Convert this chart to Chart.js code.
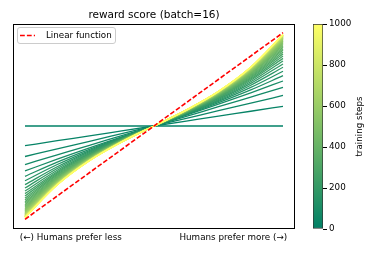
<!DOCTYPE html>
<html>
<head>
<meta charset="utf-8">
<script src="https://cdn.jsdelivr.net/npm/chart.js@4/dist/chart.umd.min.js"></script>
<style>
  html, body { margin: 0; padding: 0; background: #fff; }
  .box { position: absolute; left: 0; top: 0; width: 382px; height: 254px; }
</style>
</head>
<body>
<div class="box"><canvas id="main"></canvas></div>
<div class="box"><canvas id="cbar"></canvas></div>
<script>
// training checkpoints, one curve each
const steps = [
  0, 25, 50, 75, 100, 125, 150, 175, 200, 225, 250, 275, 300, 325, 350, 375, 400, 425, 450, 475, 500,
  525, 550, 575, 600, 625, 650, 675, 700, 725, 750, 775, 800, 825, 850, 875, 900, 925, 950, 975, 1000,
];

const xGrid = [-1, -0.75, -0.5, -0.25, 0, 0.25, 0.5, 0.75, 1];

// reward read at x = 0.25, 0.5, 0.75, 1 (curves are odd-symmetric about the centre)
const rewardRight = [
  [0, 0, 0, 0],
  [0.053, 0.106, 0.158, 0.211],
  [0.082, 0.164, 0.245, 0.327],
  [0.103, 0.207, 0.310, 0.413],
  [0.116, 0.234, 0.355, 0.482],
  [0.122, 0.250, 0.387, 0.539],
  [0.128, 0.263, 0.413, 0.587],
  [0.132, 0.274, 0.437, 0.629],
  [0.136, 0.284, 0.456, 0.665],
  [0.140, 0.293, 0.474, 0.697],
  [0.143, 0.301, 0.490, 0.725],
  [0.145, 0.308, 0.503, 0.750],
  [0.148, 0.314, 0.516, 0.773],
  [0.150, 0.319, 0.527, 0.793],
  [0.152, 0.325, 0.538, 0.812],
  [0.154, 0.329, 0.547, 0.829],
  [0.156, 0.334, 0.556, 0.845],
  [0.157, 0.338, 0.564, 0.859],
  [0.159, 0.341, 0.571, 0.872],
  [0.160, 0.345, 0.578, 0.884],
  [0.161, 0.347, 0.584, 0.895],
  [0.162, 0.350, 0.589, 0.905],
  [0.163, 0.353, 0.594, 0.914],
  [0.164, 0.355, 0.599, 0.922],
  [0.165, 0.357, 0.603, 0.930],
  [0.166, 0.359, 0.607, 0.937],
  [0.166, 0.361, 0.610, 0.943],
  [0.167, 0.362, 0.614, 0.949],
  [0.168, 0.364, 0.616, 0.954],
  [0.168, 0.365, 0.619, 0.959],
  [0.169, 0.366, 0.621, 0.963],
  [0.169, 0.367, 0.623, 0.966],
  [0.169, 0.368, 0.625, 0.969],
  [0.169, 0.368, 0.626, 0.971],
  [0.170, 0.369, 0.627, 0.973],
  [0.170, 0.369, 0.628, 0.975],
  [0.170, 0.370, 0.628, 0.977],
  [0.170, 0.370, 0.629, 0.978],
  [0.170, 0.370, 0.630, 0.979],
  [0.171, 0.371, 0.630, 0.980],
  [0.171, 0.371, 0.631, 0.981],
];

const linearX = [-1, 1];
const linearY = [-1, 1];
const linearLabel = 'Linear function';

const xTickValues = [-0.645, 0.615];
const xTickLabels = ['(←) Humans prefer less', 'Humans prefer more (→)'];

const titleText = 'reward score (batch=16)';
const colorbarLabel = 'training steps';
const colorbarMax = 1000;
const colorbarStep = 200;

const FONT = "'DejaVu Sans', sans-serif";
Chart.defaults.font.family = FONT;
Chart.defaults.color = '#000';
Chart.defaults.animation = false;
Chart.defaults.maintainAspectRatio = false;
Chart.defaults.responsive = true;

// matplotlib "summer" colormap
const summer = (t) => `rgb(${Math.round(255 * t)}, ${Math.round(255 * (0.5 + t / 2))}, 102)`;

const curveSets = steps.map((s, k) => {
  const r = rewardRight[k];
  const ys = [-r[3], -r[2], -r[1], -r[0], 0, r[0], r[1], r[2], r[3]];
  return {
    label: 'step ' + s,
    data: xGrid.map((x, i) => ({ x, y: ys[i] })),
    borderColor: summer(s / colorbarMax),
    borderWidth: 1.3,
    pointRadius: 0,
    cubicInterpolationMode: 'monotone',
    order: colorbarMax + 1 - s,
  };
});

const linearSet = {
  label: linearLabel,
  data: linearX.map((x, i) => ({ x, y: linearY[i] })),
  borderColor: '#ff0000',
  borderWidth: 1.6,
  borderDash: [4.8, 2.1],
  pointRadius: 0,
  order: 0,
};

const frame = {
  id: 'frame',
  afterDraw(chart) {
    const { ctx, chartArea: a } = chart;
    ctx.save();
    ctx.strokeStyle = '#000';
    ctx.lineWidth = 1;
    ctx.strokeRect(Math.round(a.left) + 0.5, Math.round(a.top) + 0.5,
      Math.round(a.right - a.left) - 1, Math.round(a.bottom - a.top) - 1);

    // legend box in the upper left
    const lx = a.left + 4, ly = a.top + 3, lw = 98, lh = 16;
    ctx.beginPath();
    ctx.roundRect(lx + 0.5, ly + 0.5, lw, lh, 2.5);
    ctx.fillStyle = 'rgba(255,255,255,0.8)';
    ctx.fill();
    ctx.strokeStyle = '#cccccc';
    ctx.stroke();
    ctx.beginPath();
    ctx.setLineDash(linearSet.borderDash);
    ctx.strokeStyle = linearSet.borderColor;
    ctx.lineWidth = linearSet.borderWidth;
    ctx.moveTo(lx + 3, ly + lh / 2 + 0.5);
    ctx.lineTo(lx + 18, ly + lh / 2 + 0.5);
    ctx.stroke();
    ctx.setLineDash([]);
    ctx.fillStyle = '#000';
    ctx.font = '8.75px ' + FONT;
    ctx.textBaseline = 'middle';
    ctx.fillText(linearSet.label, lx + 29, ly + lh / 2 + 1);
    ctx.restore();
  },
};

new Chart(document.getElementById('main'), {
  type: 'line',
  data: { datasets: [linearSet, ...curveSets] },
  options: {
    layout: { padding: { left: 13, right: 87, top: 0, bottom: 0 } },
    plugins: {
      legend: { display: false },
      tooltip: { enabled: false },
      title: {
        display: true,
        text: titleText,
        font: { size: 10.5, weight: 'normal' },
        padding: { top: 9, bottom: 2.4 },
      },
    },
    scales: {
      x: {
        type: 'linear',
        min: -1.093,
        max: 1.093,
        afterBuildTicks: (s) => { s.ticks = xTickValues.map((v) => ({ value: v })); },
        afterFit: (s) => { s.height = 25; },
        ticks: {
          autoSkip: false,
          maxRotation: 0,
          padding: 3,
          font: { size: 8.75 },
          callback: (v, i) => xTickLabels[i],
        },
        grid: { display: false, drawTicks: false },
        border: { display: false },
      },
      y: { type: 'linear', min: -1.104, max: 1.093, display: false },
    },
  },
  plugins: [frame],
});

const cbarTitle = {
  id: 'cbarTitle',
  afterDraw(chart) {
    const { ctx, chartArea: a } = chart;
    ctx.save();
    ctx.translate(360, (a.top + a.bottom) / 2);
    ctx.rotate(-Math.PI / 2);
    ctx.font = '8.75px ' + FONT;
    ctx.fillStyle = '#000';
    ctx.textAlign = 'center';
    ctx.textBaseline = 'middle';
    ctx.fillText(colorbarLabel, 0, 0);
    ctx.restore();
  },
};

new Chart(document.getElementById('cbar'), {
  type: 'bar',
  data: {
    labels: [colorbarLabel],
    datasets: [{
      data: [[0, colorbarMax]],
      backgroundColor: (c) => {
        const a = c.chart.chartArea;
        if (!a) return summer(0.5);
        const g = c.chart.ctx.createLinearGradient(0, a.bottom, 0, a.top);
        g.addColorStop(0, summer(0));
        g.addColorStop(1, summer(1));
        return g;
      },
      borderColor: '#333',
      borderWidth: 1,
      borderSkipped: false,
      categoryPercentage: 1,
      barPercentage: 1,
    }],
  },
  options: {
    layout: { padding: { left: 313, right: 0, top: 24, bottom: 25 } },
    plugins: { legend: { display: false }, tooltip: { enabled: false } },
    scales: {
      x: { display: false },
      y: {
        position: 'right',
        min: 0,
        max: colorbarMax,
        afterFit: (s) => { s.width = 59; },
        ticks: { stepSize: colorbarStep, padding: 2, font: { size: 8.75 }, callback: (v) => String(v) },
        grid: { drawOnChartArea: false, drawTicks: true, tickLength: 4, color: '#000' },
        border: { display: false },
      },
    },
  },
  plugins: [cbarTitle],
});
</script>
</body>
</html>
